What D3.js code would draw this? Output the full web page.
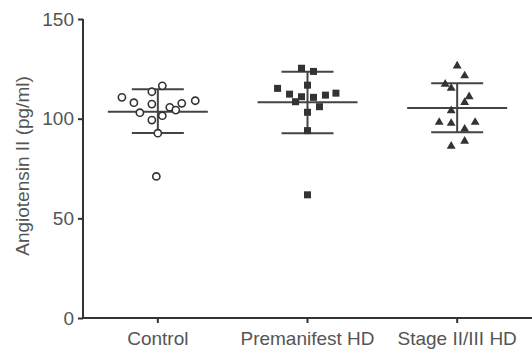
<!DOCTYPE html>
<html>
<head>
<meta charset="utf-8">
<script src="https://cdn.jsdelivr.net/npm/d3@7"></script>
<style>
  body { margin: 0; background: #fff; }
  svg text { font-family: "Liberation Sans", Arial, sans-serif; fill: #555; }
</style>
</head>
<body>
<svg width="532" height="356"></svg>
<script>
const groups = ["Control", "Premanifest HD", "Stage II/III HD"];
const controlVals = [116.5, 113.5, 110.7, 108, 107.3, 109, 107.7, 105.7, 104.3, 103, 101.5, 99.3, 92.7, 71];
const premanifestVals = [125.3, 123.7, 116.8, 115.2, 112.3, 112.8, 111.8, 111, 110.7, 108.5, 106, 103.2, 94, 61.8];
const stageVals = [126.5, 121.5, 117.3, 115.3, 111, 108.2, 104, 98.2, 97.7, 98.2, 94.8, 86.2, 88.7];
// mean and SD as drawn
const means = [103.5, 108.2, 105.3];
const sdHigh = [114.8, 123.5, 117.8];
const sdLow = [92.8, 92.7, 93.2];
const yTicks = [0, 50, 100, 150];

// horizontal scatter of points (fraction of band width)
const controlJit = [0.03, -0.04, -0.24, -0.16, -0.04, 0.25, 0.16, 0.08, 0.12, -0.12, 0.03, -0.04, 0, -0.01];
const premanifestJit = [-0.04, 0.04, 0, -0.2, -0.12, 0.19, 0.12, -0.04, 0.04, -0.08, 0.08, 0, 0, 0];
const stageJit = [0, 0.05, -0.08, -0.04, 0.08, 0.05, -0.04, -0.12, -0.04, 0.12, 0.05, -0.04, 0.05];

const svg = d3.select("svg");
const margin = { top: 19, right: 0, bottom: 38, left: 83 };
const width = 532 - margin.left - margin.right;
const height = 356 - margin.top - margin.bottom;
const g = svg.append("g").attr("transform", `translate(${margin.left},${margin.top})`);

const x = d3.scaleBand().domain(groups).range([0, width]);
const y = d3.scaleLinear().domain([0, 150]).range([height, 0]);

const ink = "#333";
const fs = 19;

const yAxis = g.append("g")
  .call(d3.axisLeft(y).tickValues(yTicks).tickSize(5).tickPadding(4));
const xAxis = g.append("g")
  .attr("transform", `translate(0,${height})`)
  .call(d3.axisBottom(x).tickSize(5).tickPadding(9));
[yAxis, xAxis].forEach(a => {
  a.select(".domain").attr("stroke", ink).attr("stroke-width", 2);
  a.selectAll(".tick line").attr("stroke", ink).attr("stroke-width", 2);
  a.selectAll("text").attr("font-size", fs).style("fill", "#555");
});
xAxis.select(".domain").attr("d", `M0,0H${width}`);
yAxis.select(".domain").attr("d", `M0,${height}V0`);

g.append("text")
  .attr("transform", `translate(-54,147) rotate(-90)`)
  .attr("text-anchor", "middle")
  .attr("font-size", fs)
  .text("Angiotensin II (pg/ml)");

const bw = x.bandwidth();
const series = [
  { vals: controlVals, jit: controlJit, shape: "circle" },
  { vals: premanifestVals, jit: premanifestJit, shape: "square" },
  { vals: stageVals, jit: stageJit, shape: "triangle" }
];

// mean and SD bars
groups.forEach((grp, i) => {
  const cx = x(grp) + bw / 2;
  const eb = g.append("g").attr("stroke", "#444").attr("stroke-width", 2);
  eb.append("line").attr("x1", cx).attr("x2", cx).attr("y1", y(sdHigh[i])).attr("y2", y(sdLow[i]));
  eb.append("line").attr("x1", cx - 26).attr("x2", cx + 26).attr("y1", y(sdHigh[i])).attr("y2", y(sdHigh[i]));
  eb.append("line").attr("x1", cx - 26).attr("x2", cx + 26).attr("y1", y(sdLow[i])).attr("y2", y(sdLow[i]));
  eb.append("line").attr("x1", cx - 50).attr("x2", cx + 50).attr("y1", y(means[i])).attr("y2", y(means[i]));
});

series.forEach((s, i) => {
  const cx0 = x(groups[i]) + bw / 2;
  const pts = g.append("g");
  s.vals.forEach((v, j) => {
    const px = cx0 + s.jit[j] * bw;
    const py = y(v);
    if (s.shape === "circle") {
      pts.append("circle").attr("cx", px).attr("cy", py).attr("r", 3.6)
        .attr("fill", "#fff").attr("stroke", ink).attr("stroke-width", 1.6);
    } else if (s.shape === "square") {
      pts.append("rect").attr("x", px - 3.5).attr("y", py - 3.5).attr("width", 7).attr("height", 7)
        .attr("fill", ink);
    } else {
      pts.append("path").attr("d", d3.symbol(d3.symbolTriangle, 34)()).attr("transform", `translate(${px},${py})`)
        .attr("fill", ink);
    }
  });
});
</script>
</body>
</html>
